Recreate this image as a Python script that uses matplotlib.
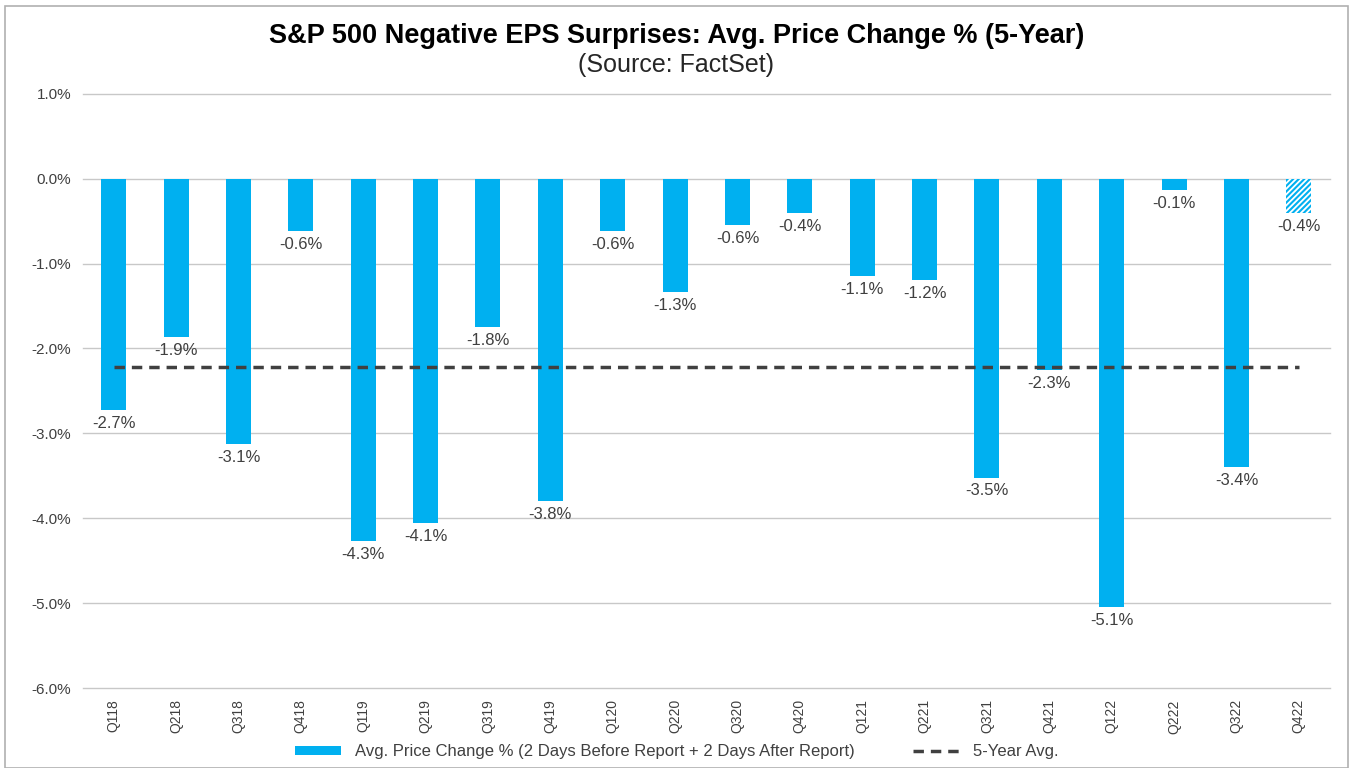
import numpy as np
import matplotlib.pyplot as plt
from matplotlib.patches import Rectangle

plt.rcParams['font.family'] = ['Liberation Sans', 'DejaVu Sans']

# data
quarters = ["Q118", "Q218", "Q318", "Q418", "Q119", "Q219", "Q319", "Q419", "Q120", "Q220",
            "Q320", "Q420", "Q121", "Q221", "Q321", "Q421", "Q122", "Q222", "Q322", "Q422"]
price_change = [-2.73, -1.87, -3.12, -0.62, -4.27, -4.06, -1.75, -3.80, -0.62, -1.34,
                -0.55, -0.41, -1.15, -1.19, -3.52, -2.25, -5.05, -0.13, -3.40, -0.41]
labels = ["-2.7%", "-1.9%", "-3.1%", "-0.6%", "-4.3%", "-4.1%", "-1.8%", "-3.8%", "-0.6%", "-1.3%",
          "-0.6%", "-0.4%", "-1.1%", "-1.2%", "-3.5%", "-2.3%", "-5.1%", "-0.1%", "-3.4%", "-0.4%"]
five_year_avg = -2.22

BLUE = "#00B0F0"
GREY_TXT = "#404040"

fig = plt.figure(figsize=(13.53, 7.68), dpi=100)
ax = fig.add_axes([0.061, 0.104, 0.922, 0.774])

x = np.arange(len(quarters))
h_bar = ax.bar(x[:-1], price_change[:-1], width=0.4, color=BLUE, zorder=2,
               label="Avg. Price Change % (2 Days Before Report + 2 Days After Report)")
# last quarter still in progress -> hatched
plt.rcParams['hatch.linewidth'] = 1.5
ax.bar(x[-1:], price_change[-1:], width=0.4, color="white", edgecolor=BLUE,
       hatch="//////", linewidth=0, zorder=2)

h_avg, = ax.plot([x[0], x[-1]], [five_year_avg, five_year_avg], color="#404040",
                 lw=2.5, ls=(0, (3, 2)), zorder=3, label="5-Year Avg.")

for xi, v, t in zip(x, price_change, labels):
    ax.text(xi, v - 0.07, t, ha="center", va="top", fontsize=12, color=GREY_TXT)

ax.set_ylim(-6, 1)
ax.set_xlim(-0.5, len(quarters) - 0.5)
ax.set_yticks(np.arange(-6, 1.01, 1))
ax.set_yticklabels(["%.1f%%" % v for v in np.arange(-6, 1.01, 1)], fontsize=11, color=GREY_TXT)
ax.set_xticks(x)
ax.set_xticklabels(quarters, rotation=90, fontsize=10, color=GREY_TXT)
ax.tick_params(length=0, pad=8)
ax.grid(axis="y", color="#c8c8c8", lw=1, zorder=0)
for gl in ax.get_ygridlines():
    gl.set_clip_on(False)
for s in ax.spines.values():
    s.set_visible(False)

fig.text(0.5, 0.953, "S&P 500 Negative EPS Surprises: Avg. Price Change % (5-Year)",
         ha="center", va="center", fontsize=19.5, fontweight="bold")
fig.text(0.5, 0.916, "(Source: FactSet)", ha="center", va="center", fontsize=18, color="#262626")

fig.legend(handles=[h_bar, h_avg], loc="center", bbox_to_anchor=(0.5, 0.021), ncol=2,
           frameon=False, fontsize=12, handlelength=2.8, handleheight=0.5,
           columnspacing=3.5, labelcolor=GREY_TXT)

fig.patches.append(Rectangle((0.004, 0.0), 0.992, 0.992, transform=fig.transFigure,
                             fill=False, edgecolor="#b0b0b0", lw=1.2))

fig.savefig("out.png", dpi=100)
